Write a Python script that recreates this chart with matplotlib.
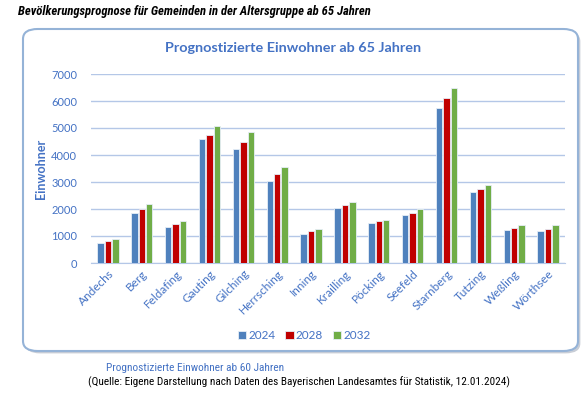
import numpy as np
import matplotlib.pyplot as plt
from matplotlib.patches import FancyBboxPatch
from matplotlib import font_manager

# gemeinden and forecast values
gemeinden = ["Andechs", "Berg", "Feldafing", "Gauting", "Gilching", "Herrsching", "Inning",
             "Krailling", "Pöcking", "Seefeld", "Starnberg", "Tutzing", "Weßling", "Wörthsee"]
jahre = ["2024", "2028", "2032"]
werte_2024 = [745, 1850, 1350, 4600, 4240, 3035, 1090, 2045, 1500, 1775, 5750, 2615, 1230, 1190]
werte_2028 = [805, 1985, 1460, 4745, 4475, 3285, 1180, 2130, 1540, 1870, 6110, 2740, 1300, 1275]
werte_2032 = [880, 2180, 1550, 5070, 4845, 3555, 1275, 2245, 1585, 1995, 6495, 2890, 1400, 1400]
farben = ["#4F81BD", "#C00000", "#70AD47"]

# pick a narrow font for the header lines
namen = {f.name for f in font_manager.fontManager.ttflist}
narrow = "DejaVu Sans"
for kandidat in ["Liberation Sans Narrow", "Roboto Condensed", "Open Sans Condensed", "Noto Sans Condensed"]:
    if kandidat in namen:
        narrow = kandidat
        break
plt.rcParams['font.family'] = ['Lato', 'DejaVu Sans']
blau = "#4472C4"

fig = plt.figure(figsize=(5.87, 3.99), dpi=100)
W, H = 587, 399

# rounded frame with shadow
x0, y0, x1, y1 = 23, 29, 578, 351
schatten = FancyBboxPatch((x0 / W + 0.004, 1 - y1 / H - 0.006), (x1 - x0) / W, (y1 - y0) / H,
                          boxstyle="round,pad=0,rounding_size=0.025", transform=fig.transFigure,
                          facecolor="#C8CDD6", edgecolor="none", zorder=0)
rahmen = FancyBboxPatch((x0 / W, 1 - y1 / H), (x1 - x0) / W, (y1 - y0) / H,
                        boxstyle="round,pad=0,rounding_size=0.025", transform=fig.transFigure,
                        facecolor="white", edgecolor="#95B3D7", linewidth=1.5, zorder=1)
fig.patches.append(schatten)
fig.patches.append(rahmen)

ax = fig.add_axes([91 / W, 1 - 263 / H, (565 - 91) / W, (263 - 74) / H])
ax.set_zorder(2)
ax.patch.set_alpha(0)

x = np.arange(len(gemeinden))
breite = 0.19
for i, (werte, farbe, jahr) in enumerate(zip([werte_2024, werte_2028, werte_2032], farben, jahre)):
    ax.bar(x + (i - 1) * 0.22, werte, breite, color=farbe, edgecolor="#E6EEF7", linewidth=0.6,
           label=jahr, zorder=3)

ax.set_xlim(-0.5, len(gemeinden) - 0.5)
ax.set_ylim(0, 7000)
ax.set_yticks(range(0, 7001, 1000))
ax.grid(axis="y", color="#B4C7E7", linewidth=1, zorder=0)
for s in ["top", "right", "left"]:
    ax.spines[s].set_visible(False)
ax.spines["bottom"].set_color("#B4C7E7")
ax.tick_params(length=0, colors=blau, labelsize=8.5)
ax.tick_params(axis="y", labelsize=8, pad=10)
ax.set_xticks(x)
ax.set_xticklabels(gemeinden, rotation=45, ha="right", rotation_mode="anchor")
ax.set_ylabel("Einwohner", color=blau, fontsize=9, fontweight="bold")
ax.yaxis.set_label_coords(-0.092, 0.5)

ax.legend(loc="upper center", bbox_to_anchor=(0.45, -0.3), ncol=3, frameon=False, fontsize=8.5,
          handlelength=0.7, handleheight=0.7, handletextpad=0.2, columnspacing=0.8, labelcolor=blau)

titel = fig.text(0.5, 1 - 48 / H, "Prognostizierte Einwohner ab 65 Jahren", ha="center", va="center",
                 color=blau, fontsize=12, fontweight="bold")
kopf = fig.text(18 / W, 1 - 12 / H, "Bevölkerungsprognose für Gemeinden in der Altersgruppe ab 65 Jahren",
                ha="left", va="center", fontsize=9, fontweight="bold", style="italic",
                family=narrow, stretch="condensed")
fuss1 = fig.text(106 / W, 1 - 368 / H, "Prognostizierte Einwohner ab 60 Jahren", ha="left", va="center",
                 color=blau, fontsize=8, family=narrow, stretch="condensed")
fuss2 = fig.text(88 / W, 1 - 382 / H,
                 "(Quelle: Eigene Darstellung nach Daten des Bayerischen Landesamtes für Statistik, 12.01.2024)",
                 ha="left", va="center", fontsize=8, family=narrow, stretch="condensed")

# fit the text widths to the reference
renderer = fig.canvas.get_renderer()
for t, ziel in [(titel, 255), (kopf, 352), (fuss1, 179), (fuss2, 425)]:
    breite_px = t.get_window_extent(renderer).width
    t.set_fontsize(t.get_fontsize() * ziel / breite_px)

plt.savefig("out.png", dpi=100)
